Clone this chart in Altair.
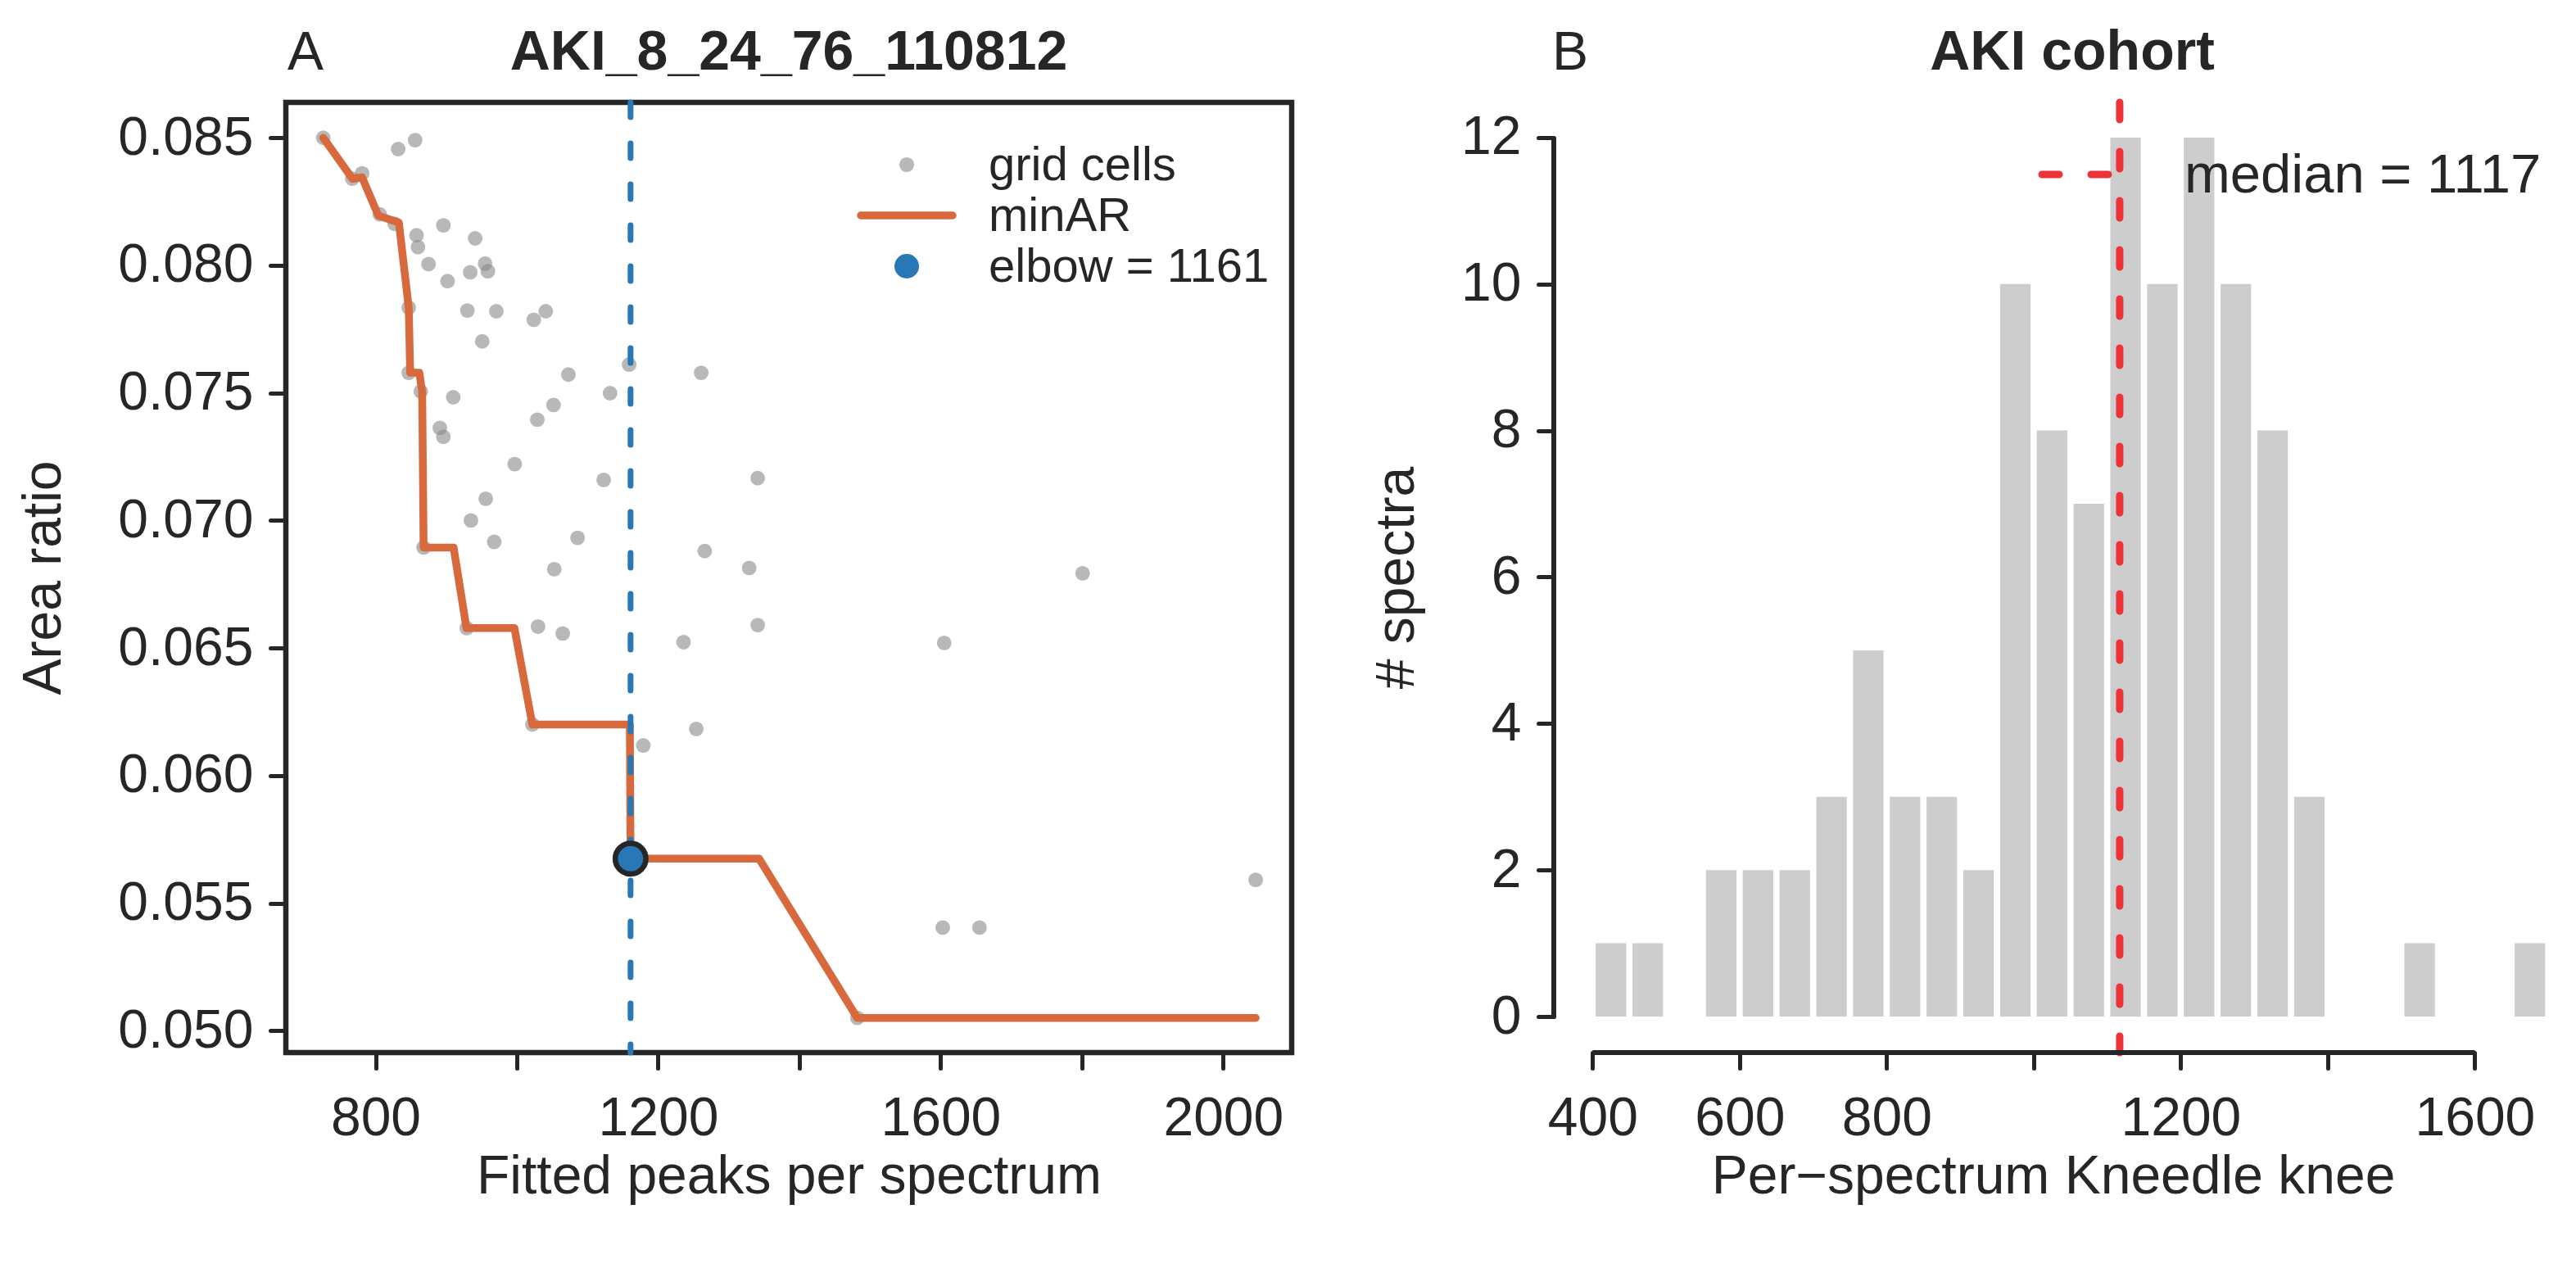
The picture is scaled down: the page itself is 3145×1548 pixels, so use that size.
import altair as alt
import pandas as pd

FONT = "Liberation Sans"
INK = "#262626"
GRAY = "#888888"
ORANGE = "#d7693c"
BLUE = "#2878b5"
RED = "#ee3338"
BAR = "#cccdcc"
FS = 66
FS_TITLE = 68
FS_LEG_A = 58
FS_LEG_B = 67

# ---------------- Panel A data ----------------
grid_x = [726, 832, 856, 781, 767, 806, 827, 858, 860, 896, 941, 875, 902, 934, 955,
          959, 847, 930, 971, 1024, 1041, 951, 847, 864, 910, 891, 896, 1029, 997, 956,
          935, 968, 868, 929, 1159, 1261, 1073, 1132, 1052, 1123, 1341, 1086, 1266, 1053,
          1329, 1030, 1065, 1341, 1236, 1022, 1254, 1179, 1161, 1482, 1801, 1605, 2046,
          1603, 1655]
grid_y = [0.08500, 0.08456, 0.08491, 0.08361, 0.08340, 0.08200, 0.08163, 0.08118, 0.08072,
          0.08157, 0.08106, 0.08005, 0.07938, 0.07973, 0.08007, 0.07977, 0.07834, 0.07823,
          0.07820, 0.07787, 0.07820, 0.07702, 0.07579, 0.07506, 0.07483, 0.07363, 0.07328,
          0.07395, 0.07221, 0.07085, 0.07000, 0.06916, 0.06894, 0.06578, 0.07611, 0.07579,
          0.07572, 0.07499, 0.07453, 0.07159, 0.07166, 0.06932, 0.06880, 0.06809, 0.06814,
          0.06584, 0.06557, 0.06590, 0.06523, 0.06200, 0.06183, 0.06118, 0.05674, 0.05050,
          0.06793, 0.06520, 0.05591, 0.05404, 0.05404]
minar_x = [726, 767.5, 781, 804, 833, 847, 849, 862, 866, 868, 910.5, 928.7, 996.6, 1022,
           1160, 1161, 1343, 1482, 2046]
minar_y = [0.08500, 0.08339, 0.08345, 0.08195, 0.08168, 0.07834, 0.07579, 0.07579, 0.07504,
           0.06894, 0.06894, 0.06578, 0.06578, 0.06200, 0.06200, 0.05674, 0.05674, 0.05050,
           0.05050]
elbow_x = 1161
elbow_y = 0.05674
a_xdomain = [673, 2097]
a_ydomain = [0.04914, 0.08639]
a_xticks = [800, 1000, 1200, 1400, 1600, 1800, 2000]
a_xlabels = [800, 1200, 1600, 2000]
a_yticks = [0.050, 0.055, 0.060, 0.065, 0.070, 0.075, 0.080, 0.085]

# ---------------- Panel B data ----------------
bin_centers = [425, 475, 525, 575, 625, 675, 725, 775, 825, 875, 925, 975, 1025, 1075,
               1125, 1175, 1225, 1275, 1325, 1375, 1425, 1475, 1525, 1575, 1625, 1675]
bin_counts = [1, 1, 0, 2, 2, 2, 3, 5, 3, 3, 2, 10, 8, 7, 12, 10, 12, 10, 8, 3, 0, 0, 1, 0, 0, 1]
bin_width = 50
bar_fraction = 0.83
median_knee = 1117
b_xdomain = [347.2, 1705.4]
b_ydomain = [-0.492, 12.48]
b_xticks = [400, 600, 800, 1000, 1200, 1400, 1600]
b_xlabels = [400, 600, 800, 1200, 1600]
b_yticks = [0, 2, 4, 6, 8, 10, 12]


def label_expr(vals):
    return "indexof([" + ",".join(str(v) for v in vals) + "], datum.value) >= 0 ? datum.label : ''"


def one_row():
    return pd.DataFrame({"t": [0]})


def text_at(s, x, y, size, align="left", baseline="middle", weight="normal"):
    return alt.Chart(pd.DataFrame({"t": [s]})).mark_text(
        align=align, baseline=baseline, fontSize=size, font=FONT, color=INK, fontWeight=weight
    ).encode(x=alt.value(x), y=alt.value(y), text="t:N")


# ---------------- Panel A ----------------
xsA = alt.Scale(domain=a_xdomain, nice=False, zero=False)
ysA = alt.Scale(domain=a_ydomain, nice=False, zero=False)
axA_x = alt.Axis(title="Fitted peaks per spectrum", values=a_xticks, format="d",
                 labelExpr=label_expr(a_xlabels), labelPadding=29, titlePadding=6,
                 labelOverlap=False, labelFlush=False)
axA_y = alt.Axis(title="Area ratio", values=a_yticks, format=".3f", labelPadding=21,
                 titlePadding=62, labelOverlap=False, labelFlush=False)

df_grid = pd.DataFrame({"x": grid_x, "y": grid_y})
df_min = pd.DataFrame({"x": minar_x, "y": minar_y, "i": list(range(len(minar_x)))})
df_elbow = pd.DataFrame({"x": [elbow_x], "y": [elbow_y]})

ax_enc = dict(x=alt.X("x:Q", scale=xsA, axis=axA_x), y=alt.Y("y:Q", scale=ysA, axis=axA_y))

a_scatter = alt.Chart(df_grid).mark_circle(color=GRAY, opacity=0.6, size=320).encode(**ax_enc)
a_line = alt.Chart(df_min).mark_line(color=ORANGE, strokeWidth=9.5, strokeCap="round",
                                     strokeJoin="round").encode(order="i:Q", **ax_enc)
a_vline = alt.Chart(df_elbow).mark_rule(color=BLUE, strokeWidth=7, strokeDash=[18, 32],
                                        strokeCap="round").encode(x=alt.X("x:Q", scale=xsA, axis=axA_x))
a_elbow = alt.Chart(df_elbow).mark_circle(color=BLUE, opacity=1, size=1400, stroke=INK,
                                          strokeWidth=6.5).encode(**ax_enc)

a_leg_pt = alt.Chart(one_row()).mark_circle(color=GRAY, opacity=0.6, size=330).encode(
    x=alt.value(758), y=alt.value(76))
a_leg_ln = alt.Chart(one_row()).mark_rule(color=ORANGE, strokeWidth=9.5, strokeCap="round").encode(
    x=alt.value(702), x2=alt.value(814), y=alt.value(138))
a_leg_el = alt.Chart(one_row()).mark_circle(color=BLUE, opacity=1, size=900).encode(
    x=alt.value(758), y=alt.value(200))
a_leg_t1 = text_at("grid cells", 858, 78, FS_LEG_A)
a_leg_t2 = text_at("minAR", 858, 140, FS_LEG_A)
a_leg_t3 = text_at(f"elbow = {elbow_x}", 858, 202, FS_LEG_A)
a_letter = text_at("A", 2, -40, FS, baseline="alphabetic")
a_title = text_at("AKI_8_24_76_110812", 614, -40, FS_TITLE, align="center",
                  baseline="alphabetic", weight="bold")

panelA = alt.layer(
    a_scatter, a_line, a_vline, a_elbow,
    a_leg_pt, a_leg_ln, a_leg_el, a_leg_t1, a_leg_t2, a_leg_t3, a_letter, a_title
).properties(width=1228, height=1160, view=alt.ViewBackground(stroke=INK, strokeWidth=6.5))

# ---------------- Panel B ----------------
xsB = alt.Scale(domain=b_xdomain, nice=False, zero=False)
ysB = alt.Scale(domain=b_ydomain, nice=False, zero=False)
axB_x = alt.Axis(title="Per\u2212spectrum Kneedle knee", values=b_xticks, format="d",
                 labelExpr=label_expr(b_xlabels), labelPadding=29, titlePadding=6,
                 labelOverlap=False, labelFlush=False)
axB_y = alt.Axis(title="# spectra", values=b_yticks, format="d", labelPadding=21,
                 titlePadding=44, labelOverlap=False, labelFlush=False)

half = bin_width * bar_fraction / 2
df_bins = pd.DataFrame({
    "x0": [c - half for c in bin_centers],
    "x1": [c + half for c in bin_centers],
    "count": bin_counts,
    "zero": [0] * len(bin_counts),
})
b_bars = alt.Chart(df_bins).mark_bar(color=BAR, opacity=1).encode(
    x=alt.X("x0:Q", scale=xsB, axis=axB_x), x2="x1:Q",
    y=alt.Y("count:Q", scale=ysB, axis=axB_y), y2="zero:Q")

b_median = alt.Chart(pd.DataFrame({"x0": [median_knee]})).mark_rule(
    color=RED, strokeWidth=9, strokeDash=[21, 39], strokeCap="round").encode(
    x=alt.X("x0:Q", scale=xsB, axis=axB_x))

b_yspine = alt.Chart(pd.DataFrame({"x0": [b_xdomain[0]], "y0": [b_yticks[0]], "y1": [b_yticks[-1]]})).mark_rule(
    color=INK, strokeWidth=6).encode(
    x=alt.X("x0:Q", scale=xsB, axis=axB_x),
    y=alt.Y("y0:Q", scale=ysB, axis=axB_y), y2="y1:Q")
b_xspine = alt.Chart(pd.DataFrame({"x0": [b_xticks[0]], "x1": [b_xticks[-1]], "y0": [b_ydomain[0]]})).mark_rule(
    color=INK, strokeWidth=6).encode(
    x=alt.X("x0:Q", scale=xsB, axis=axB_x), x2="x1:Q",
    y=alt.Y("y0:Q", scale=ysB, axis=axB_y))

b_leg_ln = alt.Chart(one_row()).mark_rule(color=RED, strokeWidth=9, strokeDash=[21, 39],
                                          strokeCap="round").encode(
    x=alt.value(596), x2=alt.value(682), y=alt.value(88))
b_leg_t = text_at(f"median = {median_knee}", 770, 90, FS_LEG_B)
b_letter = text_at("B", -2, -40, FS, baseline="alphabetic")
b_title = text_at("AKI cohort", 633, -40, FS_TITLE, align="center", baseline="alphabetic",
                  weight="bold")

panelB = alt.layer(
    b_bars, b_median, b_yspine, b_xspine, b_leg_ln, b_leg_t, b_letter, b_title
).properties(width=1219, height=1160)

chart = alt.hconcat(panelA, panelB, spacing=320, bounds="flush").properties(
    padding={"left": 8, "top": 19, "right": 8, "bottom": 8}
).configure_view(stroke="transparent").configure_axis(
    domain=False, grid=False, tickColor=INK, tickWidth=5, tickSize=19, tickCap="round",
    labelFont=FONT, labelFontSize=FS, labelColor=INK,
    titleFont=FONT, titleFontSize=FS, titleFontWeight="normal", titleColor=INK
)

chart.save("out.html", embed_options={"renderer": "svg", "actions": False})
